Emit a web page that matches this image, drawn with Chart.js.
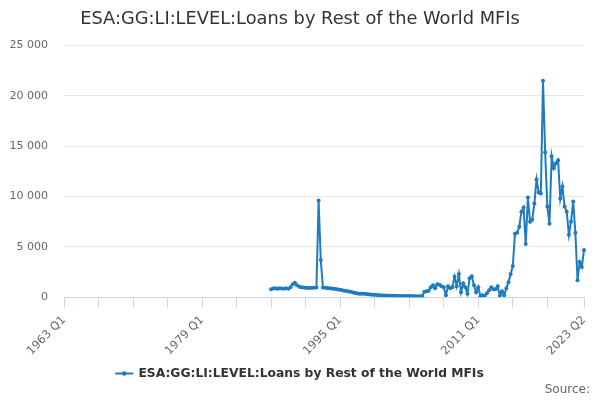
<!DOCTYPE html>
<html lang="en">
<head>
  <meta charset="UTF-8" />
  <title>ESA:GG:LI:LEVEL:Loans by Rest of the World MFIs</title>
  <script src="https://cdn.jsdelivr.net/npm/chart.js"></script>
  <style>
    html, body { margin: 0; padding: 0; background: #fff; }
    #wrap { width: 600px; height: 400px; }
  </style>
</head>
<body>
  <div id="wrap">
    <canvas id="lineChart" width="600" height="400"></canvas>
  </div>

  <script>
    // quarters 1963 Q1 .. 2023 Q2
    const firstYear = 1963;
    const lastYear = 2023;
    const lastQuarter = 2;

    // series starts in 1987 Q1, nothing before
    const seriesStart = "1987 Q1";
    const loans = [
      800, 880, 900, 860,          // 1987
      900, 880, 850, 900,          // 1988
      860, 1000, 1300, 1450,       // 1989
      1200, 1050, 1000, 980,       // 1990
      950, 930, 920, 950,          // 1991
      960, 980, 9600, 3700,        // 1992
      980, 950, 920, 900,          // 1993
      880, 850, 820, 780,          // 1994
      740, 700, 660, 620,          // 1995
      580, 540, 480, 420,          // 1996
      380, 360, 350, 340,          // 1997
      320, 300, 280, 260,          // 1998
      250, 230, 210, 200,          // 1999
      190, 180, 170, 160,          // 2000
      150, 150, 140, 140,          // 2001
      130, 130, 130, 120,          // 2002
      120, 120, 110, 110,          // 2003
      110, 100, 100, 550,          // 2004
      600, 650, 1000, 1200,        // 2005
      900, 1300, 1250, 1100,       // 2006
      1000, 200, 1100, 900,        // 2007
      1000, 2050, 1100, 2300,      // 2008
      500, 1400, 1000, 350,        // 2009
      1900, 2100, 1200, 500,       // 2010
      1000, 100, 200, 150,         // 2011
      400, 700, 1000, 800,         // 2012
      800, 1100, 150, 600,         // 2013
      200, 900, 1500, 2300,        // 2014
      3100, 6300, 6400, 7000,      // 2015
      8500, 8900, 5300, 9900,      // 2016
      7500, 7700, 9300, 11700,     // 2017
      10400, 10300, 21500, 14400,  // 2018
      9000, 7300, 14000, 12800,    // 2019
      13300, 13600, 9800, 11000,   // 2020
      9000, 8500, 6200, 7500,      // 2021
      9500, 6400, 1700, 3500,      // 2022
      3000, 4700                   // 2023
    ];

    const yTicks = [0, 5000, 10000, 15000, 20000, 25000];
    const xTickIndex = [0, 16, 32, 48, 64, 80, 96, 112, 128, 144, 160, 176, 192, 208, 224, 241];
    const xLabelIndex = [0, 64, 128, 192, 241];

    const quarters = [];
    for (let y = firstYear; y <= lastYear; y++) {
      for (let q = 1; q <= 4; q++) {
        if (y === lastYear && q > lastQuarter) break;
        quarters.push(y + " Q" + q);
      }
    }
    const startIdx = quarters.indexOf(seriesStart);
    const seriesData = quarters.map((_, i) => i < startIdx ? null : loans[i - startIdx]);

    const lineColor = "#1f7bc1";
    const font = "'DejaVu Sans', Verdana, sans-serif";

    const fmt = v => String(v).replace(/\B(?=(\d{3})+(?!\d))/g, " ");

    // little dot in the middle of the legend line
    const legendDot = {
      id: "legendDot",
      afterDraw(chart) {
        const lg = chart.legend;
        if (!lg || !lg.legendHitBoxes || !lg.legendHitBoxes.length) return;
        const hb = lg.legendHitBoxes[0];
        const ctx = chart.ctx;
        ctx.save();
        ctx.fillStyle = lineColor;
        ctx.beginPath();
        ctx.arc(hb.left + 8, hb.top + hb.height / 2, 2.2, 0, Math.PI * 2);
        ctx.fill();
        ctx.restore();
      }
    };

    new Chart(document.getElementById("lineChart").getContext("2d"), {
      type: "line",
      data: {
        labels: quarters,
        datasets: [{
          label: "ESA:GG:LI:LEVEL:Loans by Rest of the World MFIs",
          data: seriesData,
          borderColor: lineColor,
          backgroundColor: lineColor,
          borderWidth: 2,
          pointRadius: 2,
          pointHoverRadius: 3,
          pointBorderWidth: 0,
          tension: 0
        }]
      },
      options: {
        responsive: false,
        animation: false,
        layout: { padding: { left: 10, right: 10, top: 0, bottom: 0 } },
        plugins: {
          title: {
            display: true,
            text: "ESA:GG:LI:LEVEL:Loans by Rest of the World MFIs",
            color: "#333333",
            font: { family: font, size: 17.8, weight: "normal" },
            padding: { top: 9, bottom: 15 }
          },
          subtitle: {
            display: true,
            position: "bottom",
            align: "end",
            text: "Source:",
            color: "#666666",
            font: { family: font, size: 12, weight: "normal" },
            padding: { top: -7, bottom: 3 }
          },
          legend: {
            position: "bottom",
            labels: {
              color: "#333333",
              font: { family: font, size: 12.3, weight: "bold" },
              boxWidth: 16,
              boxHeight: 0.01,
              padding: 3
            }
          },
          tooltip: { enabled: false }
        },
        scales: {
          x: {
            afterBuildTicks: scale => { scale.ticks = xTickIndex.map(v => ({ value: v })); },
            afterFit: scale => { scale.paddingLeft = 0; scale.paddingRight = 16; scale.height = 67; },
            grid: { drawOnChartArea: false, color: "#ccd6eb", tickLength: 10 },
            border: { color: "#ccd6eb", width: 1 },
            ticks: {
              autoSkip: false,
              minRotation: 45,
              maxRotation: 45,
              padding: 6,
              color: "#666666",
              font: { family: font, size: 11.5 },
              callback: function (value) {
                return xLabelIndex.includes(value) ? this.getLabelForValue(value) : "";
              }
            }
          },
          y: {
            min: 0,
            max: 25000,
            afterBuildTicks: scale => { scale.ticks = yTicks.map(v => ({ value: v })); },
            afterFit: scale => { scale.width = 54; },
            grid: {
              drawTicks: false,
              color: ctx => ctx.tick && ctx.tick.value === 0 ? "rgba(0,0,0,0)" : "#e6e6e6"
            },
            border: { display: false },
            ticks: {
              padding: 16,
              color: "#666666",
              font: { family: font, size: 11 },
              callback: v => fmt(v)
            }
          }
        }
      },
      plugins: [legendDot]
    });
  </script>
</body>
</html>
